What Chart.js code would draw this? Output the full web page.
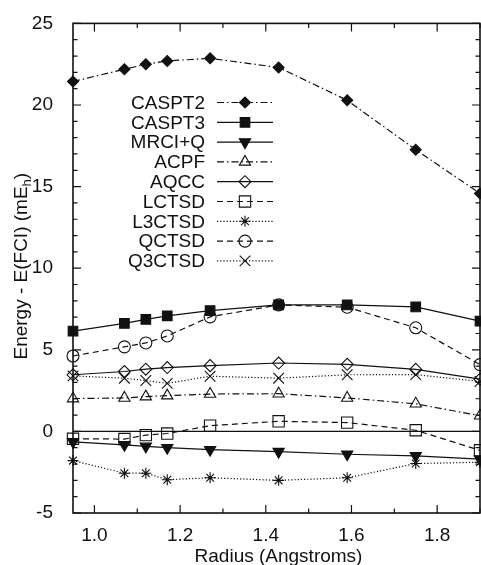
<!DOCTYPE html>
<html lang="en">
<head>
<meta charset="UTF-8">
<title>Energy - E(FCI) vs Radius</title>
<style>
  html, body { margin: 0; padding: 0; background: #fff; }
  #wrap { width: 481px; height: 565px; position: relative; }
</style>
</head>
<body>
<div id="wrap"><canvas id="energyChart"></canvas></div>

<script src="https://cdn.jsdelivr.net/npm/chart.js"></script>
<script>
// radius in Angstroms
const radius = [0.95, 1.07, 1.12, 1.17, 1.27, 1.43, 1.59, 1.75, 1.90];

// energy - E(FCI), mEh
const caspt2 = [21.44, 22.19, 22.50, 22.70, 22.86, 22.30, 20.29, 17.26, 14.58];
const caspt3 = [6.15, 6.62, 6.86, 7.08, 7.40, 7.75, 7.75, 7.63, 6.76];
const mrciq  = [-0.64, -0.82, -0.92, -1.00, -1.12, -1.24, -1.40, -1.50, -1.70];
const acpf   = [2.01, 2.05, 2.13, 2.19, 2.29, 2.31, 2.05, 1.69, 0.96];
const aqcc   = [3.47, 3.67, 3.81, 3.91, 4.03, 4.19, 4.11, 3.80, 3.20];
const lctsd  = [-0.45, -0.47, -0.23, -0.13, 0.35, 0.62, 0.54, 0.07, -1.16];
const l3ctsd = [-1.79, -2.56, -2.56, -2.96, -2.84, -3.00, -2.84, -1.97, -1.89];
const qctsd  = [4.62, 5.18, 5.42, 5.85, 7.02, 7.75, 7.61, 6.35, 4.09];
const q3ctsd = [3.40, 3.26, 3.12, 2.94, 3.38, 3.26, 3.47, 3.48, 3.06];

const seriesNames = ['CASPT2', 'CASPT3', 'MRCI+Q', 'ACPF', 'AQCC', 'LCTSD', 'L3CTSD', 'QCTSD', 'Q3CTSD'];
const seriesValues = [caspt2, caspt3, mrciq, acpf, aqcc, lctsd, l3ctsd, qctsd, q3ctsd];

const xTicks = [1.0, 1.2, 1.4, 1.6, 1.8];
const yTicks = [-5, 0, 5, 10, 15, 20, 25];

const FONT = "'Liberation Sans', Arial, Helvetica, sans-serif";
const INK = '#111';

const dashDot = [7, 3, 1.5, 3];
const dashed = [6, 4];
const dotted = [1.2, 2];

const looks = [
    { dash: dashDot, point: 'rectRot',  r: 5.5, fill: true },
    { dash: [],      point: 'rect',     r: 6.8, fill: true },
    { dash: [],      point: 'triangle', r: 6.5, fill: true, rot: 180 },
    { dash: dashDot, point: 'triangle', r: 6.5, fill: false },
    { dash: [],      point: 'rectRot',  r: 6,   fill: false },
    { dash: dashed,  point: 'rect',     r: 8,   fill: false },
    { dash: dotted,  point: 'star',     r: 5.5, fill: false },
    { dash: dashed,  point: 'circle',   r: 6,   fill: false },
    { dash: dotted,  point: 'crossRot', r: 7.5, fill: false }
];

const datasets = seriesNames.map((name, i) => ({
    label: name,
    data: radius.map((x, j) => ({ x: x, y: seriesValues[i][j] })),
    borderColor: INK,
    borderWidth: 1.2,
    borderDash: looks[i].dash,
    pointStyle: looks[i].point,
    pointRadius: looks[i].r,
    pointRotation: looks[i].rot || 0,
    pointBorderWidth: 1.1,
    pointBorderColor: INK,
    pointBackgroundColor: looks[i].fill ? INK : 'rgba(0,0,0,0)',
    tension: 0,
    clip: false
}));

// frame, inward ticks, zero line, axis titles and the key
const framePlugin = {
    id: 'frame',
    beforeDatasetsDraw(chart) {
        const { ctx, chartArea: a, scales } = chart;
        const y0 = scales.y.getPixelForValue(0);
        ctx.save();
        ctx.strokeStyle = INK;
        ctx.lineWidth = 1.2;
        ctx.beginPath();
        ctx.moveTo(a.left, y0);
        ctx.lineTo(a.right, y0);
        ctx.stroke();
        ctx.restore();
    },
    afterDraw(chart) {
        const { ctx, chartArea: a, scales } = chart;
        const xs = scales.x, ys = scales.y;
        ctx.save();
        ctx.strokeStyle = INK;
        ctx.lineWidth = 1.2;

        // ticks
        const tick = (px, horiz, len) => {
            ctx.beginPath();
            if (horiz) {
                ctx.moveTo(px, a.bottom); ctx.lineTo(px, a.bottom - len);
                ctx.moveTo(px, a.top); ctx.lineTo(px, a.top + len);
            } else {
                ctx.moveTo(a.left, px); ctx.lineTo(a.left + len, px);
                ctx.moveTo(a.right, px); ctx.lineTo(a.right - len, px);
            }
            ctx.stroke();
        };
        xTicks.forEach(v => tick(xs.getPixelForValue(v), true, 8));
        for (let v = 1.1; v < 1.95; v += 0.2) tick(xs.getPixelForValue(v), true, 4.5);
        for (let v = -5; v <= 25; v++) {
            tick(ys.getPixelForValue(v), false, yTicks.includes(v) ? 8 : 4.5);
        }

        // border
        ctx.lineWidth = 1.6;
        ctx.strokeRect(a.left, a.top, a.right - a.left, a.bottom - a.top);

        // axis titles
        ctx.fillStyle = INK;
        ctx.font = '19px ' + FONT;
        ctx.textAlign = 'center';
        ctx.textBaseline = 'alphabetic';
        ctx.fillText('Radius (Angstroms)', (a.left + a.right) / 2 + 2, 562);

        ctx.save();
        ctx.translate(27, (a.top + a.bottom) / 2 - 2);
        ctx.rotate(-Math.PI / 2);
        ctx.textAlign = 'left';
        const main = 'Energy - E(FCI) (mE', sub = 'h', tail = ')';
        ctx.font = '19px ' + FONT;
        const wMain = ctx.measureText(main).width, wTail = ctx.measureText(tail).width;
        ctx.font = '13px ' + FONT;
        const wSub = ctx.measureText(sub).width;
        let x0 = -(wMain + wSub + wTail) / 2;
        ctx.font = '19px ' + FONT;
        ctx.fillText(main, x0, 0);
        ctx.font = '13px ' + FONT;
        ctx.fillText(sub, x0 + wMain, 4);
        ctx.font = '19px ' + FONT;
        ctx.fillText(tail, x0 + wMain + wSub, 0);
        ctx.restore();

        // key
        ctx.textAlign = 'right';
        ctx.textBaseline = 'middle';
        chart.data.datasets.forEach((ds, i) => {
            const ky = 102.5 + i * 19.8;
            ctx.fillStyle = INK;
            ctx.font = '19px ' + FONT;
            ctx.fillText(ds.label, 205, ky + 1);

            ctx.lineWidth = ds.borderWidth;
            ctx.setLineDash(ds.borderDash);
            ctx.beginPath();
            ctx.moveTo(217, ky);
            ctx.lineTo(273, ky);
            ctx.stroke();
            ctx.setLineDash([]);

            ctx.lineWidth = ds.pointBorderWidth;
            ctx.fillStyle = ds.pointBackgroundColor;
            ctx.strokeStyle = ds.pointBorderColor;
            Chart.helpers.drawPoint(ctx, {
                pointStyle: ds.pointStyle,
                radius: ds.pointRadius,
                rotation: ds.pointRotation,
                borderWidth: ds.pointBorderWidth
            }, 245, ky);
        });
        ctx.restore();
    }
};

const ctx = document.getElementById('energyChart').getContext('2d');
new Chart(ctx, {
    type: 'line',
    data: { datasets: datasets },
    options: {
        responsive: true,
        maintainAspectRatio: false,
        animation: false,
        layout: { autoPadding: false, padding: { top: 18, right: 1, left: 0, bottom: 0 } },
        plugins: {
            legend: { display: false },
            tooltip: { enabled: false }
        },
        scales: {
            x: {
                type: 'linear',
                min: 0.95,
                max: 1.9,
                grid: { display: false },
                border: { display: false },
                afterBuildTicks: s => { s.ticks = xTicks.map(v => ({ value: v })); },
                afterFit: s => { s.height = 52; },
                ticks: {
                    color: INK,
                    padding: 3,
                    maxRotation: 0,
                    font: { family: FONT, size: 19 },
                    callback: v => v.toFixed(1)
                }
            },
            y: {
                type: 'linear',
                min: -5,
                max: 25,
                grid: { display: false },
                border: { display: false },
                afterBuildTicks: s => { s.ticks = yTicks.map(v => ({ value: v })); },
                afterFit: s => { s.width = 73; },
                ticks: {
                    color: INK,
                    padding: 12,
                    font: { family: FONT, size: 19 },
                    callback: v => String(v)
                }
            }
        }
    },
    plugins: [framePlugin]
});
</script>
</body>
</html>
